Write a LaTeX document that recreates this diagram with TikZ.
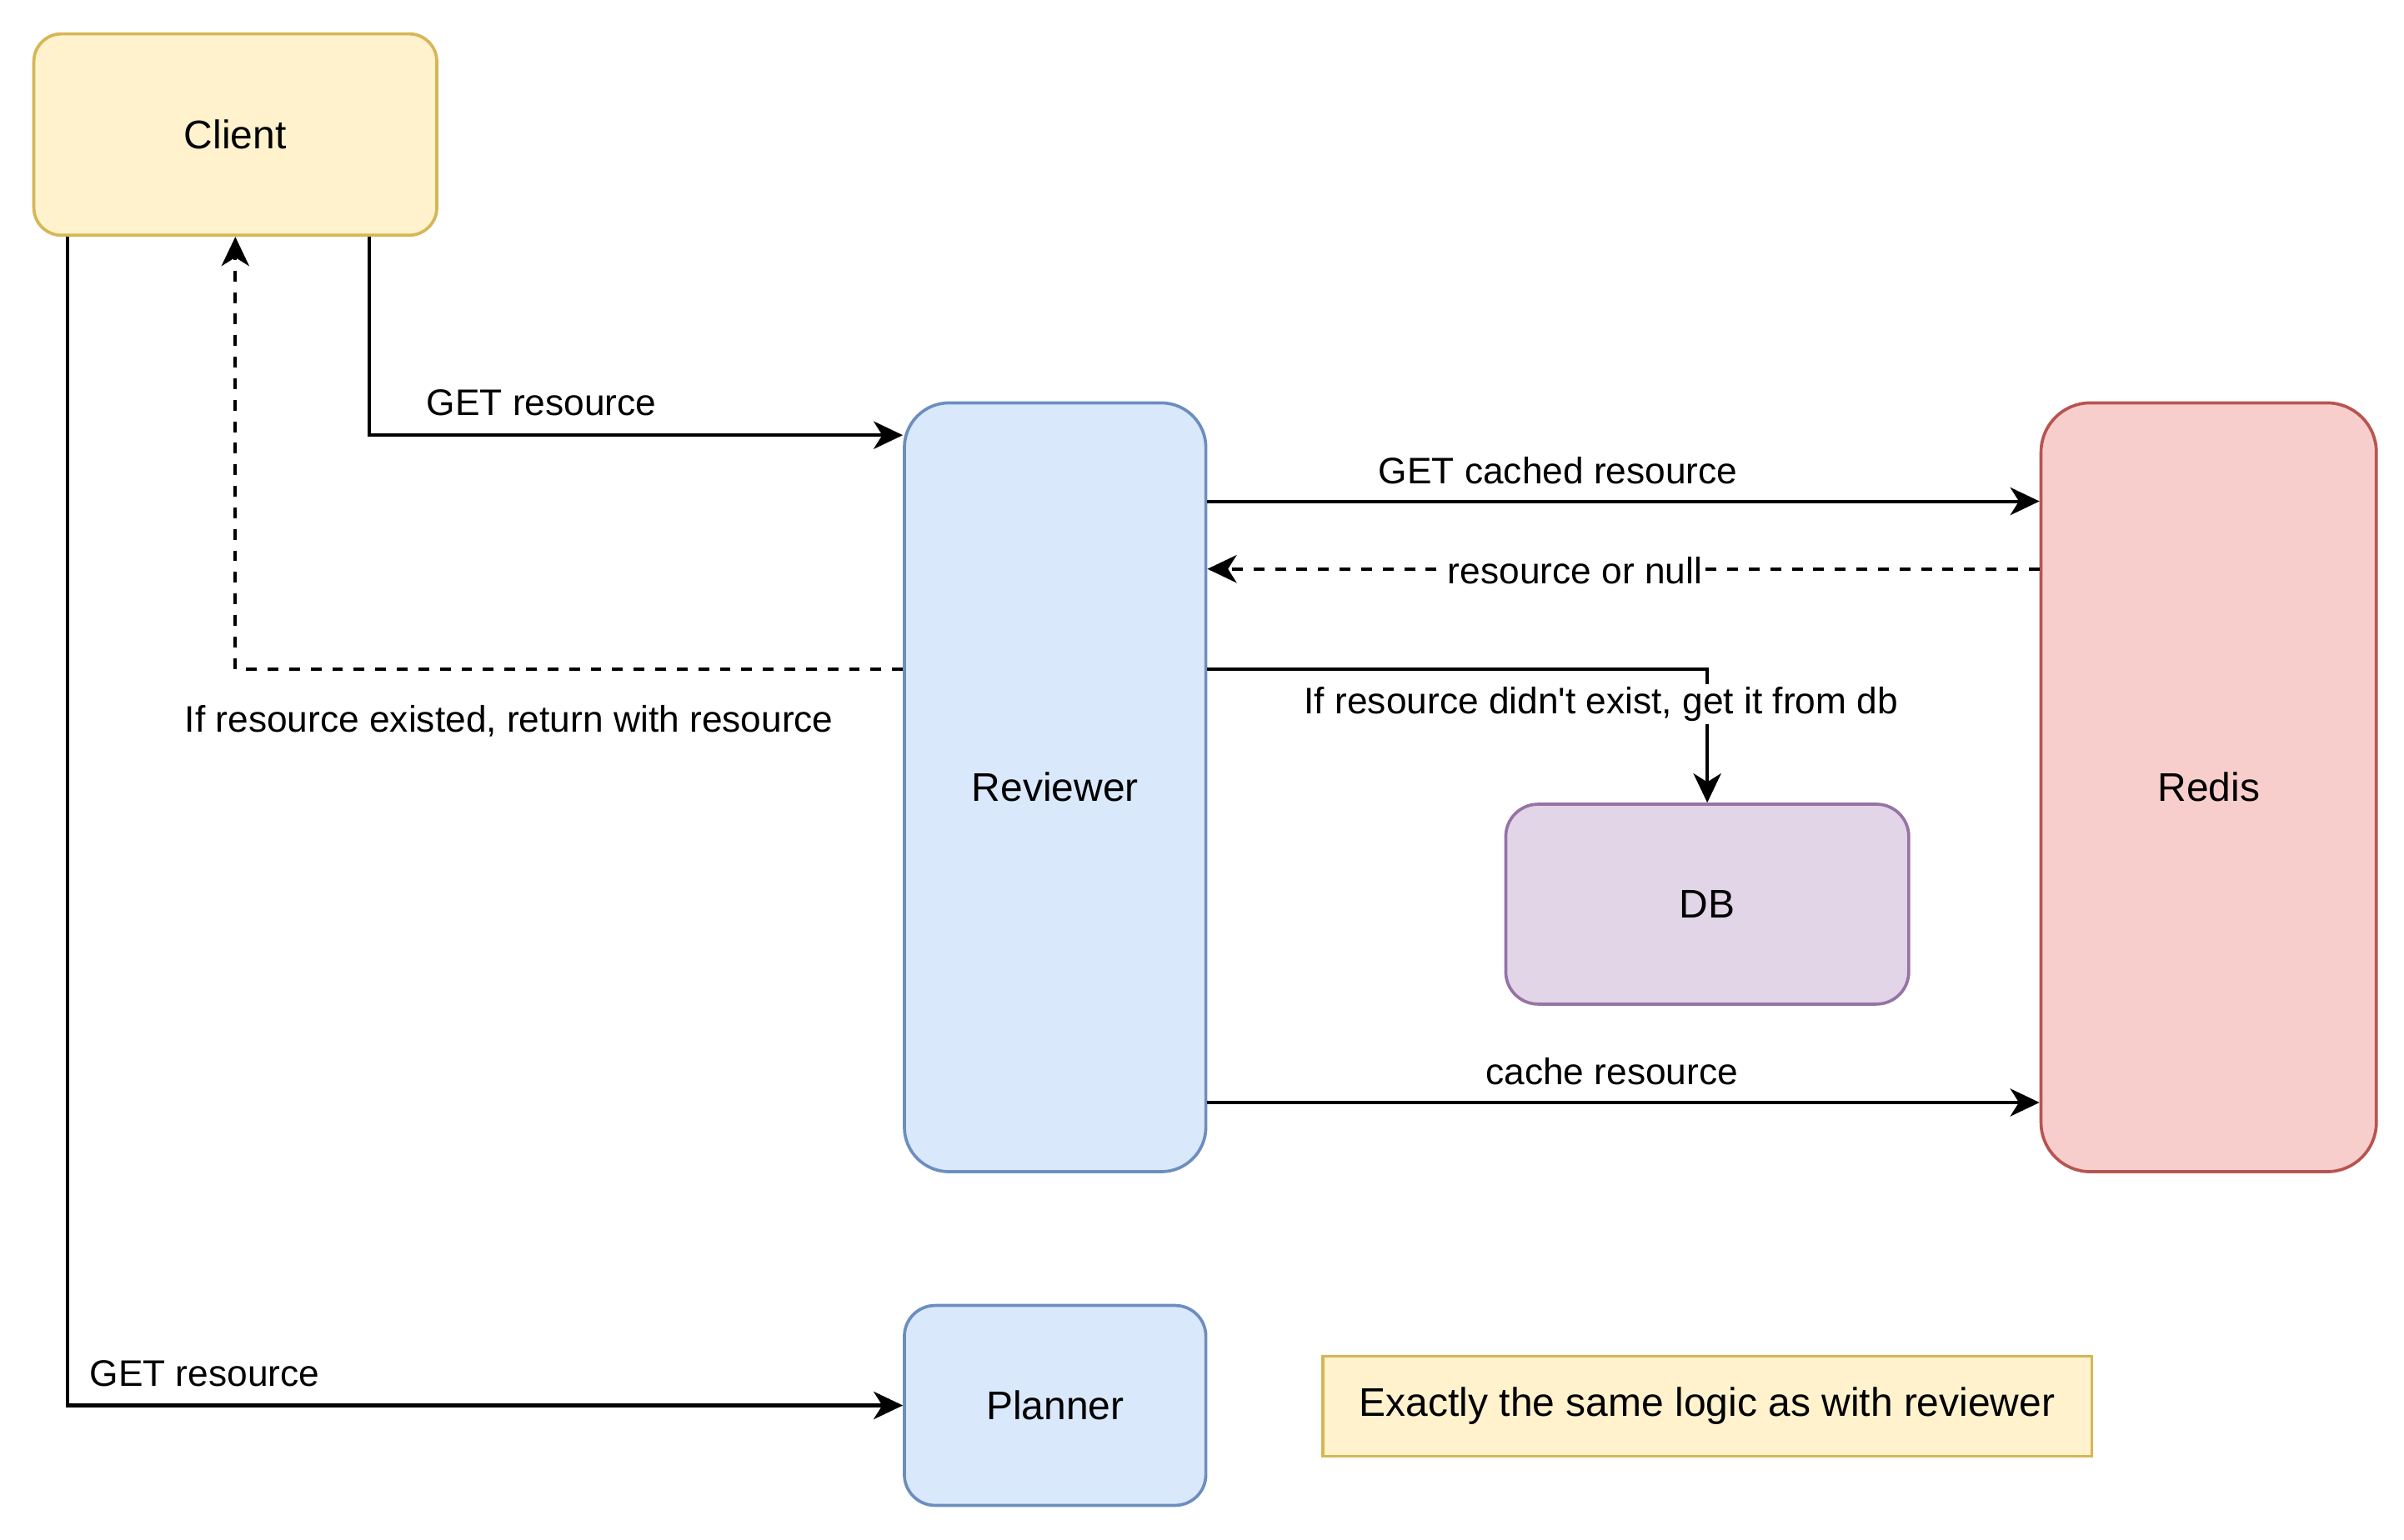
\documentclass[tikz,border=0pt]{standalone}
\usepackage{xcolor}
\usepackage{fontspec}
\setmainfont{Liberation Sans}
\usepackage{tikz}
\usetikzlibrary{positioning,arrows.meta}

\definecolor{yellowfill}{HTML}{FFF2CC}
\definecolor{yellowline}{HTML}{D6B656}
\definecolor{bluefill}{HTML}{DAE8FC}
\definecolor{blueline}{HTML}{6C8EBF}
\definecolor{redfill}{HTML}{F8CECC}
\definecolor{redline}{HTML}{B85450}
\definecolor{purplefill}{HTML}{E1D5E7}
\definecolor{purpleline}{HTML}{9673A6}

\begin{document}
\begin{tikzpicture}[
				x=0.5pt, y=-0.5pt,
				boxnode/.style={rectangle, line width=1pt, inner sep=0pt, font=\fontsize{13}{15}\selectfont},
				clientnode/.style={boxnode, draw=yellowline, fill=yellowfill, rounded corners=9pt, minimum width=131pt, minimum height=65.5pt},
				servicenode/.style={boxnode, draw=blueline, fill=bluefill, minimum width=98pt},
				cachenode/.style={boxnode, draw=redline, fill=redfill, rounded corners=16pt, minimum width=109pt, minimum height=250pt},
				dbnode/.style={boxnode, draw=purpleline, fill=purplefill, rounded corners=10.5pt, minimum width=131pt, minimum height=65pt},
				notenode/.style={boxnode, draw=yellowline, fill=yellowfill, minimum width=250pt, minimum height=32.5pt},
				lbl/.style={fill=white, inner sep=1pt, font=\fontsize{12}{14}\selectfont},
				flow/.style={-{Stealth[length=9.5pt, width=9pt, inset=2.8pt]}, line width=1.1pt},
				reply/.style={flow, dash pattern=on 3.5pt off 3.5pt},
				]
				\useasboundingbox (0,0) rectangle (1563,1001.5);
				
				%Nodes
				\node[clientnode](client) at (153,87.5){Client};
				\node[servicenode, rounded corners=14.5pt, minimum height=250pt](reviewer) at (686,512){Reviewer};
				\node[cachenode](redis) at (1436,512){Redis};
				\node[dbnode](db) at (1110,588){DB};
				\node[servicenode, rounded corners=10pt, minimum height=65pt](planner) at (686,914){Planner};
				\node[notenode](note) at (1110,914.5){Exactly the same logic as with reviewer};
				
				%Lines
				\draw[flow] ([xshift=43.5pt]client.south) |- ([yshift=-11pt]reviewer.north west);
				\draw[reply] ([yshift=-87pt]reviewer.north west) -| (client.south);
				\draw[flow] ([yshift=-32.5pt]reviewer.north east) -- ([yshift=-32.5pt]redis.north west);
				\draw[reply] ([yshift=-54.5pt]redis.north west) -- ([yshift=-54.5pt]reviewer.north east);
				\draw[flow] ([yshift=-87pt]reviewer.north east) -| (db.north);
				\draw[flow] ([yshift=-228pt]reviewer.north east) -- ([yshift=-228pt]redis.north west);
				\draw[flow] ([xshift=11.5pt]client.south west) |- (planner.west);
				
				%Labels
				\node[lbl] at (352,262){GET resource};
				\node[lbl] at (331,469){If resource existed, return with resource};
				\node[lbl] at (1013,306){GET cached resource};
				\node[lbl] at (1024,371){resource or null};
				\node[lbl] at (1041,458){If resource didn\textquotesingle t exist, get it from db};
				\node[lbl] at (1048,697){cache resource};
				\node[lbl] at (133,893){GET resource};
				
			\end{tikzpicture}
\end{document}
